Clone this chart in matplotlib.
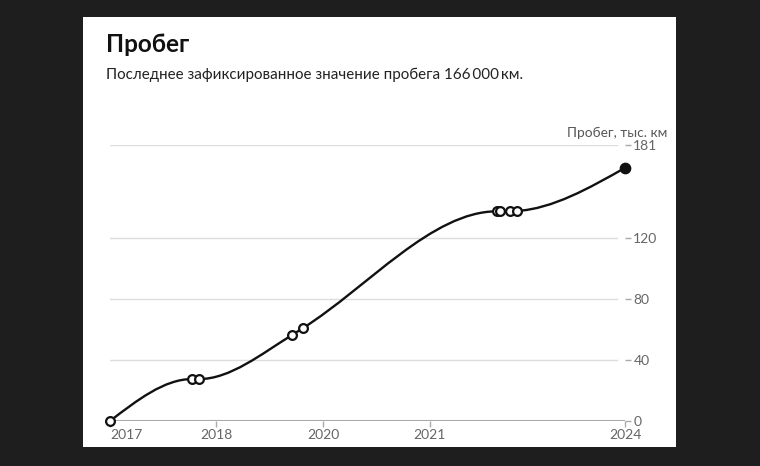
import numpy as np
import matplotlib.pyplot as plt
from matplotlib.patches import Rectangle
from matplotlib.path import Path
from matplotlib.patches import PathPatch

plt.rcParams['font.family'] = ['Lato', 'DejaVu Sans']

# data: position along the time axis (0..1) and mileage, thousand km
pos = [0.0, 0.159, 0.173, 0.354, 0.375, 0.751, 0.757, 0.777, 0.790, 1.0]
mileage = [0, 27.5, 27.5, 56.5, 61, 137.5, 137.5, 137.5, 137.7, 166]
tick_pos = [0.0, 0.206, 0.414, 0.621, 1.0]
tick_labels = ['2017', '2018', '2020', '2021', '2024']
y_ticks = [0, 40, 80, 120, 181]

title = 'Пробег'
subtitle = 'Последнее зафиксированное значение пробега 166\u2009000\u2009км.'
y_title = 'Пробег, тыс. км'


def monotone_path(x, y):
    # d3 curveMonotoneX as cubic bezier segments
    x = np.asarray(x, float)
    y = np.asarray(y, float)
    n = len(x)
    h = np.diff(x)
    s = np.diff(y) / h
    t = np.zeros(n)
    for i in range(1, n - 1):
        s0, s1 = s[i - 1], s[i]
        p = (s0 * h[i] + s1 * h[i - 1]) / (h[i - 1] + h[i])
        t[i] = (np.sign(s0) + np.sign(s1)) * min(abs(s0), abs(s1), 0.5 * abs(p))
    t[0] = (3 * s[0] - t[1]) / 2
    t[-1] = (3 * s[-1] - t[-2]) / 2
    verts = [(x[0], y[0])]
    codes = [Path.MOVETO]
    for i in range(n - 1):
        dx = h[i] / 3
        verts += [(x[i] + dx, y[i] + dx * t[i]),
                  (x[i + 1] - dx, y[i + 1] - dx * t[i + 1]),
                  (x[i + 1], y[i + 1])]
        codes += [Path.CURVE4] * 3
    return Path(verts, codes)


W, H = 760, 466
fig = plt.figure(figsize=(W / 100, H / 100), dpi=100)
fig.patch.set_facecolor('#1e1e1e')
fig.add_artist(Rectangle((83 / W, 1 - 447 / H), (676 - 83) / W, (447 - 17) / H,
                         transform=fig.transFigure, facecolor='white',
                         edgecolor='none', zorder=0))

fig.text(106 / W, 1 - 52 / H, title, fontsize=17.5, fontweight='bold',
         color='#111111', va='baseline')
fig.text(106 / W, 1 - 79 / H, subtitle, fontsize=10.9, color='#222222',
         va='baseline')

ax = fig.add_axes([110 / W, 1 - 421 / H, (625 - 110) / W, (421 - 145) / H])
ax.set_facecolor('none')
ax.set_xlim(0, 1)
ax.set_ylim(0, 181)

for v in y_ticks[1:]:
    ax.axhline(v, xmin=0, xmax=0.985, color='#dddddd', lw=1, zorder=1)
ax.axhline(0, color='#aaaaaa', lw=1.5, zorder=1)

ax.add_patch(PathPatch(monotone_path(pos, mileage), facecolor='none',
                       edgecolor='#111111', lw=1.7, zorder=3, clip_on=False))
ax.scatter(pos[:-1], mileage[:-1], s=40, facecolor='white', edgecolor='#111111',
           linewidth=1.6, zorder=4, clip_on=False)
ax.scatter(pos[-1:], mileage[-1:], s=55, color='#111111', zorder=4, clip_on=False)

for sp in ax.spines.values():
    sp.set_visible(False)

ax.yaxis.tick_right()
ax.set_yticks(y_ticks)
ax.tick_params(axis='y', length=4, width=1, color='#aaaaaa', pad=2,
               labelsize=10, labelcolor='#666666')
ax.set_xticks(tick_pos)
ax.set_xticklabels(tick_labels)
ax.tick_params(axis='x', length=4, width=1, color='#aaaaaa', pad=2,
               labelsize=10, labelcolor='#666666')
ax.get_xticklabels()[0].set_horizontalalignment('left')

fig.text(667 / W, 1 - 137 / H, y_title, fontsize=9.8, color='#555555',
         ha='right', va='baseline')

fig.savefig('out.png', dpi=100, facecolor=fig.get_facecolor())
